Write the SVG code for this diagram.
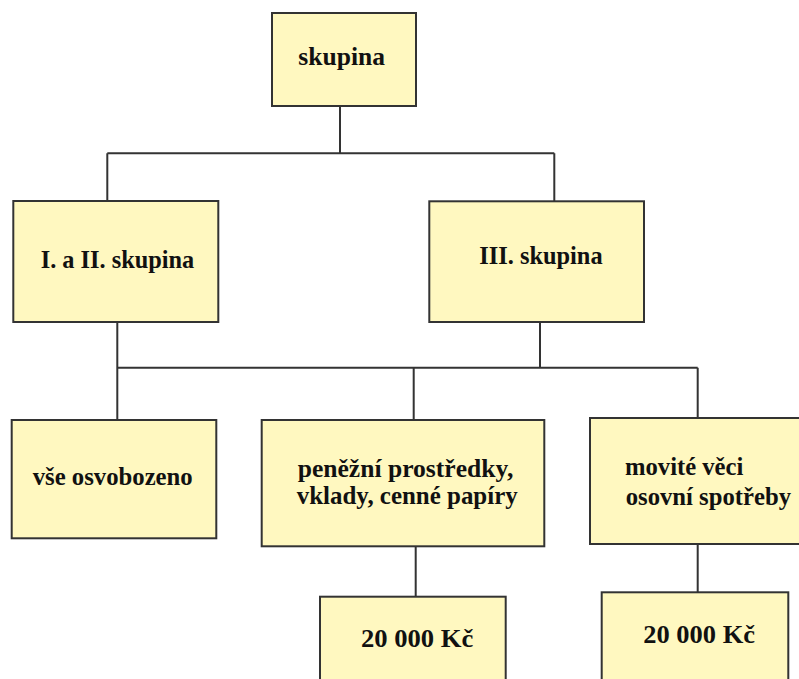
<svg xmlns="http://www.w3.org/2000/svg" width="799" height="679" viewBox="0 0 799 679">
  <style>
    .box { fill: #FFF8C0; stroke: #333333; stroke-width: 2; }
    .lbl { font-family: "Liberation Serif", "Times New Roman", serif; font-weight: bold; font-size: 25px; fill: #111111; }
    .conn { fill: none; stroke: #333333; stroke-width: 2; }
  </style>
  <rect width="799" height="679" fill="#FFFFFF"/>
  <g id="connectors">
    <path class="conn" d="M340 106 V153.3 M107.3 153.3 H554.3 M107.3 153.3 V201 M554.3 153.3 V201"/>
    <path class="conn" d="M117.3 322 V367.7 M540 322 V367.7 M117.3 367.7 H697.7 M117.3 367.7 V420 M413.7 367.7 V420 M697.7 367.7 V418"/>
    <path class="conn" d="M415.7 546.3 V596.7 M697.7 544 V592.3"/>
  </g>
  <g id="n-skupina">
    <rect class="box" x="272" y="13" width="144" height="93"/>
    <text class="lbl" x="298.3" y="65" textLength="86.7" lengthAdjust="spacingAndGlyphs">skupina</text>
  </g>
  <g id="n-I-II">
    <rect class="box" x="13.3" y="201" width="205" height="121"/>
    <text class="lbl" x="40.7" y="268.3" textLength="153.6" lengthAdjust="spacingAndGlyphs">I. a II. skupina</text>
  </g>
  <g id="n-III">
    <rect class="box" x="429.3" y="201.3" width="214.7" height="120.7"/>
    <text class="lbl" x="479.3" y="264.3" textLength="123.3" lengthAdjust="spacingAndGlyphs">III. skupina</text>
  </g>
  <g id="n-vse">
    <rect class="box" x="11.7" y="420" width="204.6" height="118.3"/>
    <text class="lbl" x="32.7" y="485" textLength="160" lengthAdjust="spacingAndGlyphs">vše osvobozeno</text>
  </g>
  <g id="n-penezni">
    <rect class="box" x="261.7" y="420" width="282.6" height="126.3"/>
    <text class="lbl" x="297.7" y="476.7" textLength="215.6" lengthAdjust="spacingAndGlyphs">peněžní prostředky,</text>
    <text class="lbl" x="296.7" y="504.3" textLength="221" lengthAdjust="spacingAndGlyphs">vklady, cenné papíry</text>
  </g>
  <g id="n-movite">
    <rect class="box" x="590" y="418" width="220" height="126"/>
    <text class="lbl" x="625" y="475" textLength="118.3" lengthAdjust="spacingAndGlyphs">movité věci</text>
    <text class="lbl" x="625.7" y="505" textLength="165.3" lengthAdjust="spacingAndGlyphs">osovní spotřeby</text>
  </g>
  <g id="n-20000-a">
    <rect class="box" x="320" y="596.7" width="185.7" height="95"/>
    <text class="lbl" x="361" y="647.3" textLength="112.3" lengthAdjust="spacingAndGlyphs">20 000 Kč</text>
  </g>
  <g id="n-20000-b">
    <rect class="box" x="601.7" y="592.3" width="186.6" height="99"/>
    <text class="lbl" x="643.3" y="642.7" textLength="111.7" lengthAdjust="spacingAndGlyphs">20 000 Kč</text>
  </g>
</svg>
